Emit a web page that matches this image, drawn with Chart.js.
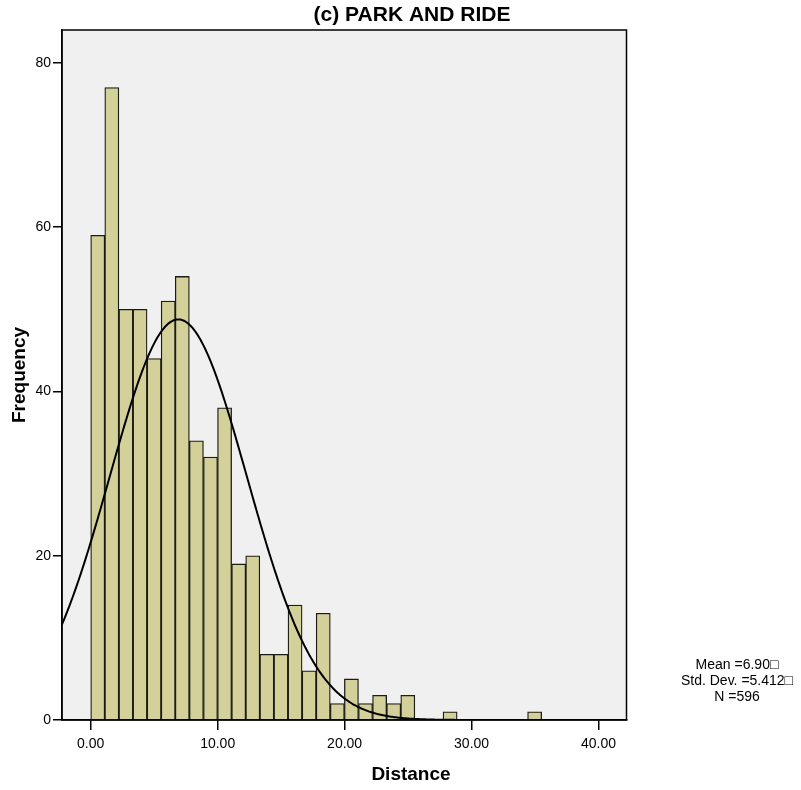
<!DOCTYPE html>
<html>
<head>
<meta charset="utf-8">
<script src="https://cdn.jsdelivr.net/npm/chart.js@4.4.1/dist/chart.umd.min.js"></script>
<style>
  html, body { margin: 0; padding: 0; background: #fff; }
  #hist { display: block; }
</style>
</head>
<body>
<canvas id="hist" width="801" height="790"></canvas>
<script>
// histogram of distance, bins start at 0
var binWidth = 1.11;
var binCounts = [59, 77, 50, 50, 44, 51, 54, 34, 32, 38, 19, 20, 8, 8, 14, 6,
                 13, 2, 5, 2, 3, 2, 3, 0, 0, 1, 0, 0, 0, 0, 0, 1];
var xTickValues = [0, 10, 20, 30, 40];
var yTickValues = [0, 20, 40, 60, 80];
var statLines = ['Mean =6.90\u25A1', 'Std. Dev. =5.412\u25A1', 'N =596'];
var meanVal = 6.90;
var sdVal = 5.412;
var nVal = 596;

var xMin = -2.26, xMax = 42.2;
var FONT = "'Liberation Sans Narrow', 'Arial Narrow', 'Liberation Sans', Arial, sans-serif";

var barPoints = [];
for (var i = 0; i < binCounts.length; i++) {
    barPoints.push({ x: (i + 0.5) * binWidth, y: binCounts[i] });
}

// fitted normal curve, scaled to counts per bin
var curvePoints = [];
for (var x = xMin; x <= xMax + 0.001; x += 0.1) {
    var z = (x - meanVal) / sdVal;
    var dens = Math.exp(-0.5 * z * z) / (sdVal * Math.sqrt(2 * Math.PI));
    curvePoints.push({ x: x, y: nVal * binWidth * dens });
}

var decor = {
    id: 'decor',
    beforeDraw: function(chart) {
        var a = chart.chartArea, c = chart.ctx;
        c.save();
        c.fillStyle = '#f0f0f0';
        c.fillRect(a.left, a.top, a.right - a.left, a.bottom - a.top);
        c.restore();
    },
    afterDraw: function(chart) {
        var a = chart.chartArea, c = chart.ctx;
        c.save();
        c.strokeStyle = '#000';
        c.lineWidth = 1.5;
        c.strokeRect(a.left, a.top, a.right - a.left, a.bottom - a.top);

        c.fillStyle = '#000';
        c.textAlign = 'center';
        c.textBaseline = 'middle';
        c.font = 'bold 21px ' + FONT;
        c.fillText('(c) PARK AND RIDE', 412, 15);

        c.font = 'bold 19px ' + FONT;
        c.fillText('Distance', 411, 775);

        c.save();
        c.translate(20, 375);
        c.rotate(-Math.PI / 2);
        c.fillText('Frequency', 0, 0);
        c.restore();

        c.font = '14px ' + FONT;
        for (var i = 0; i < statLines.length; i++) {
            c.fillText(statLines[i], 737, 665 + i * 16);
        }
        c.restore();
    }
};

new Chart(document.getElementById('hist'), {
    type: 'bar',
    data: {
        datasets: [
            {
                type: 'line',
                data: curvePoints,
                borderColor: '#000',
                borderWidth: 2,
                pointRadius: 0,
                fill: false,
                tension: 0,
                order: 0
            },
            {
                type: 'bar',
                data: barPoints,
                backgroundColor: '#d4d09a',
                borderColor: '#1c1c16',
                borderWidth: function(ctx) { return ctx.raw && ctx.raw.y > 0 ? 1.3 : 0; },
                barPercentage: 1,
                categoryPercentage: 1,
                order: 1
            }
        ]
    },
    options: {
        responsive: false,
        animation: false,
        events: [],
        layout: { padding: { top: 30, right: 174.5, left: 0, bottom: 0 } },
        plugins: {
            legend: { display: false },
            title: { display: false },
            tooltip: { enabled: false }
        },
        scales: {
            x: {
                type: 'linear',
                min: xMin,
                max: xMax,
                offset: false,
                afterBuildTicks: function(s) {
                    s.ticks = xTickValues.map(function(v) { return { value: v }; });
                },
                afterFit: function(s) { s.height = 70; },
                ticks: {
                    color: '#000',
                    font: { family: FONT, size: 14 },
                    padding: 6,
                    maxRotation: 0,
                    callback: function(v) { return Number(v).toFixed(2); }
                },
                grid: { offset: false, drawOnChartArea: false, drawTicks: true, tickLength: 10, color: '#000', lineWidth: 1.5 },
                border: { display: true, color: '#000', width: 1.5 }
            },
            y: {
                min: 0,
                max: 84,
                afterBuildTicks: function(s) {
                    s.ticks = yTickValues.map(function(v) { return { value: v }; });
                },
                afterFit: function(s) { s.width = 62; },
                ticks: {
                    color: '#000',
                    font: { family: FONT, size: 14 },
                    padding: 2
                },
                grid: { offset: false, drawOnChartArea: false, drawTicks: true, tickLength: 9, color: '#000', lineWidth: 1.5 },
                border: { display: true, color: '#000', width: 1.5 }
            }
        }
    },
    plugins: [decor]
});
</script>
</body>
</html>
